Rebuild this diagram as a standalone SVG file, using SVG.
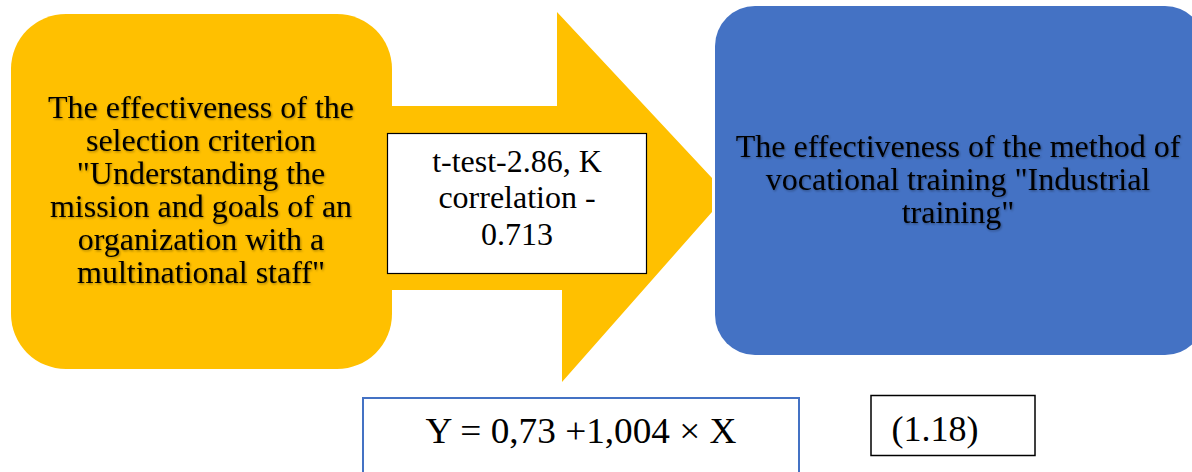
<svg xmlns="http://www.w3.org/2000/svg" width="1192" height="472" viewBox="0 0 1192 472">
  <defs>
    <filter id="shadow" x="-10%" y="-10%" width="120%" height="120%">
      <feDropShadow dx="1" dy="1.2" stdDeviation="0.9" flood-color="#000" flood-opacity="0.35"/>
    </filter>
  </defs>
  <style>
    text { font-family: 'Liberation Serif', 'Times New Roman', Times, 'DejaVu Serif', serif; fill: #000; text-anchor: middle; }
    .big { font-size: 32px; }
    .eq { font-size: 36px; }
  </style>
  <rect width="1192" height="472" fill="#ffffff"/>

  <g id="connectors">
    <polygon id="arrow" points="390,106 557,106 557,12 712,178 712,212 562,382 562,290 390,290" fill="#FFC000"/>
  </g>

  <g id="node-left">
    <rect x="11" y="14" width="381" height="355" rx="55" ry="55" fill="#FFC000"/>
    <g filter="url(#shadow)">
      <text class="big" x="201" y="118">The effectiveness of the</text>
      <text class="big" x="201" y="151">selection criterion</text>
      <text class="big" x="201" y="184">"Understanding the</text>
      <text class="big" x="201" y="217">mission and goals of an</text>
      <text class="big" x="201" y="250">organization with a</text>
      <text class="big" x="201" y="283">multinational staff"</text>
    </g>
  </g>

  <g id="node-label">
    <rect x="387.5" y="133.5" width="259" height="140" fill="#ffffff" stroke="#000" stroke-width="1.2"/>
    <text class="big" x="517" y="172">t-test-2.86, K</text>
    <text class="big" x="517" y="208">correlation -</text>
    <text class="big" x="517" y="245">0.713</text>
  </g>

  <g id="node-right">
    <rect x="715" y="6" width="490" height="349" rx="40" ry="40" fill="#4472C4"/>
    <g filter="url(#shadow)">
      <text class="big" x="958" y="157">The effectiveness of the method of</text>
      <text class="big" x="958" y="190">vocational training "Industrial</text>
      <text class="big" x="958" y="223">training"</text>
    </g>
  </g>

  <g id="node-equation">
    <rect x="363" y="398" width="436" height="80" fill="#ffffff" stroke="#4472C4" stroke-width="2"/>
    <text class="eq" x="581" y="443" textLength="311" lengthAdjust="spacingAndGlyphs">Y = 0,73 +1,004 × X</text>
  </g>

  <g id="node-number">
    <rect x="871" y="395.5" width="164" height="60" fill="#ffffff" stroke="#000" stroke-width="1.5"/>
    <text class="eq" x="935" y="441">(1.18)</text>
  </g>
</svg>
